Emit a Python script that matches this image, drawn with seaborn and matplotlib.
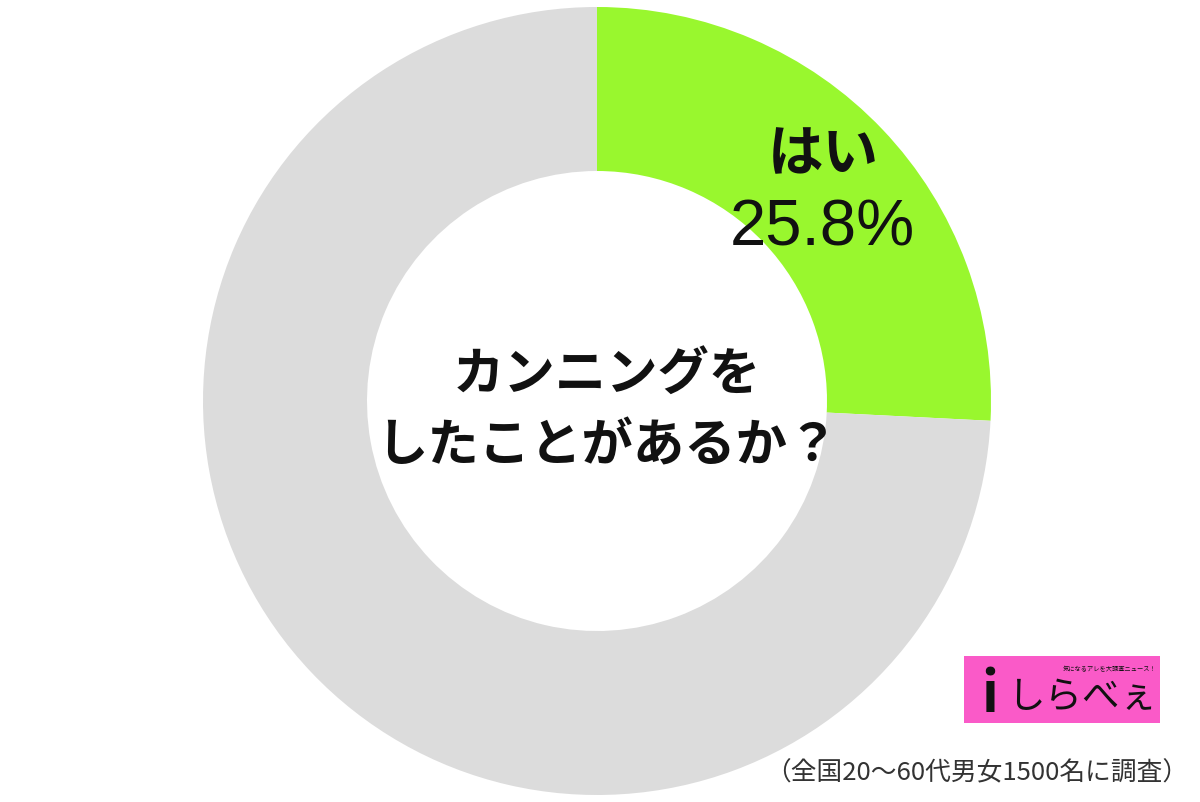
import numpy as np
import matplotlib.pyplot as plt
import matplotlib.patches as patches
import seaborn as sns

sns.set_theme(style="white")
plt.rcParams['font.family'] = ['Noto Sans CJK JP', 'DejaVu Sans']

labels = ['はい', 'いいえ']
values = [25.8, 74.2]
colors = ['#99f72e', '#dcdcdc']
question = 'カンニングを\nしたことがあるか？'
note = '（全国20～60代男女1500名に調査）'

W, H = 1200, 802
fig = plt.figure(figsize=(W / 100, H / 100), dpi=100)
ax = fig.add_axes([0, 0, 1, 1])

cx, cy, r = 597, H - 401, 394
ax.pie(values, colors=colors, startangle=90, counterclock=False,
       center=(cx, cy), radius=r,
       wedgeprops=dict(width=r - 230, edgecolor='none'))
ax.set_xlim(0, W)
ax.set_ylim(0, H)
ax.set_aspect('equal')
ax.axis('off')

# label of the highlighted slice
ax.text(823, H - 155, labels[0], ha='center', va='center', fontsize=40,
        fontweight='bold', color='#111111')
ax.text(822, H - 228, f'{values[0]}%', ha='center', va='center', fontsize=47,
        color='#111111', family=['Liberation Sans', 'DejaVu Sans'])

# question in the hole
ax.text(cx + 10, H - 410, question, ha='center', va='center', fontsize=37,
        fontweight='bold', color='#111111', linespacing=1.45)

# footnote
ax.text(1188, H - 773, note, ha='right', va='center', fontsize=18.5, color='#333333')

# logo
ax.add_patch(patches.Rectangle((964, H - 723), 196, 67, facecolor='#fa5ac8',
                               edgecolor='none'))
ax.text(1110, H - 669, '気になるアレを大調査ニュース！', ha='center', va='center',
        fontsize=4.5, color='#111111')
ax.text(990, H - 695, 'i', ha='center', va='center', fontsize=40,
        fontweight='bold', color='#111111')
ax.text(1082, H - 697, 'しらべぇ', ha='center', va='center', fontsize=27,
        color='#111111')

fig.savefig('out.png', dpi=100)
